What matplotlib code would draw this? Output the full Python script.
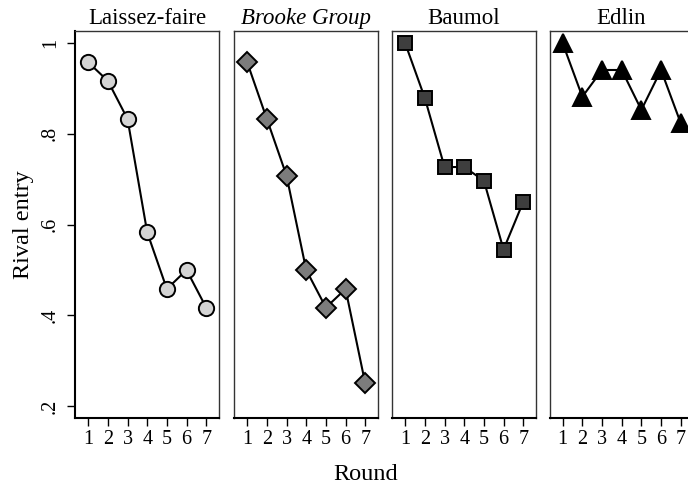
import matplotlib.pyplot as plt

plt.rcParams['font.family'] = ['Liberation Serif', 'DejaVu Serif']

rounds = [1, 2, 3, 4, 5, 6, 7]
titles = ["Laissez-faire", "Brooke Group", "Baumol", "Edlin"]
laissez = [0.958, 0.917, 0.833, 0.583, 0.458, 0.500, 0.417]
brooke = [0.958, 0.833, 0.708, 0.500, 0.417, 0.458, 0.250]
baumol = [1.000, 0.879, 0.727, 0.727, 0.697, 0.545, 0.650]
edlin = [1.000, 0.882, 0.941, 0.941, 0.853, 0.941, 0.824]
series = [laissez, brooke, baumol, edlin]

yticks = [0.2, 0.4, 0.6, 0.8, 1.0]
ytick_labels = [".2", ".4", ".6", ".8", "1"]

markers = ["o", "D", "s", "^"]
msizes = [11, 10, 10, 13]
faces = ["#d4d4d4", "#7c7c7c", "#3e3e3e", "#000000"]

fig = plt.figure(figsize=(6.88, 4.87), dpi=100)
lefts = [75, 234, 392, 549.5]
W, H = 688.0, 487.0

for i in range(4):
    ax = fig.add_axes([lefts[i] / W, 1 - 418 / H, 144 / W, 387 / H])
    ax.plot(rounds, series[i], color="black", lw=1.5, marker=markers[i],
            ms=msizes[i], mfc=faces[i], mec="black", mew=1.4, clip_on=False)
    ax.set_xlim(0.33, 7.65)
    ax.set_ylim(0.1735, 1.027)
    ax.set_xticks(rounds)
    ax.set_xticklabels([str(r) for r in rounds], fontsize=14.5)
    ax.tick_params(axis="x", length=6, width=1, pad=3)
    if i == 0:
        ax.set_yticks(yticks)
        ax.set_yticklabels(ytick_labels, rotation=90, va="center", fontsize=14.5)
        ax.tick_params(axis="y", length=6, width=1, pad=5)
        ax.set_ylabel("Rival entry", fontsize=17.5, labelpad=5)
    else:
        ax.set_yticks([])
    for s in ax.spines.values():
        s.set_linewidth(1.0)
        s.set_color("#333333")
    ax.spines["bottom"].set_linewidth(1.5)
    ax.spines["bottom"].set_color("black")
    if i == 0:
        ax.spines["left"].set_linewidth(1.5)
        ax.spines["left"].set_color("black")
    style = "italic" if i == 1 else "normal"
    ax.set_title(titles[i], fontsize=16.5, style=style, pad=5)

fig.text(366 / W, 1 - 474 / H, "Round", fontsize=17.5, ha="center", va="center")

fig.savefig("out.png", dpi=100)
